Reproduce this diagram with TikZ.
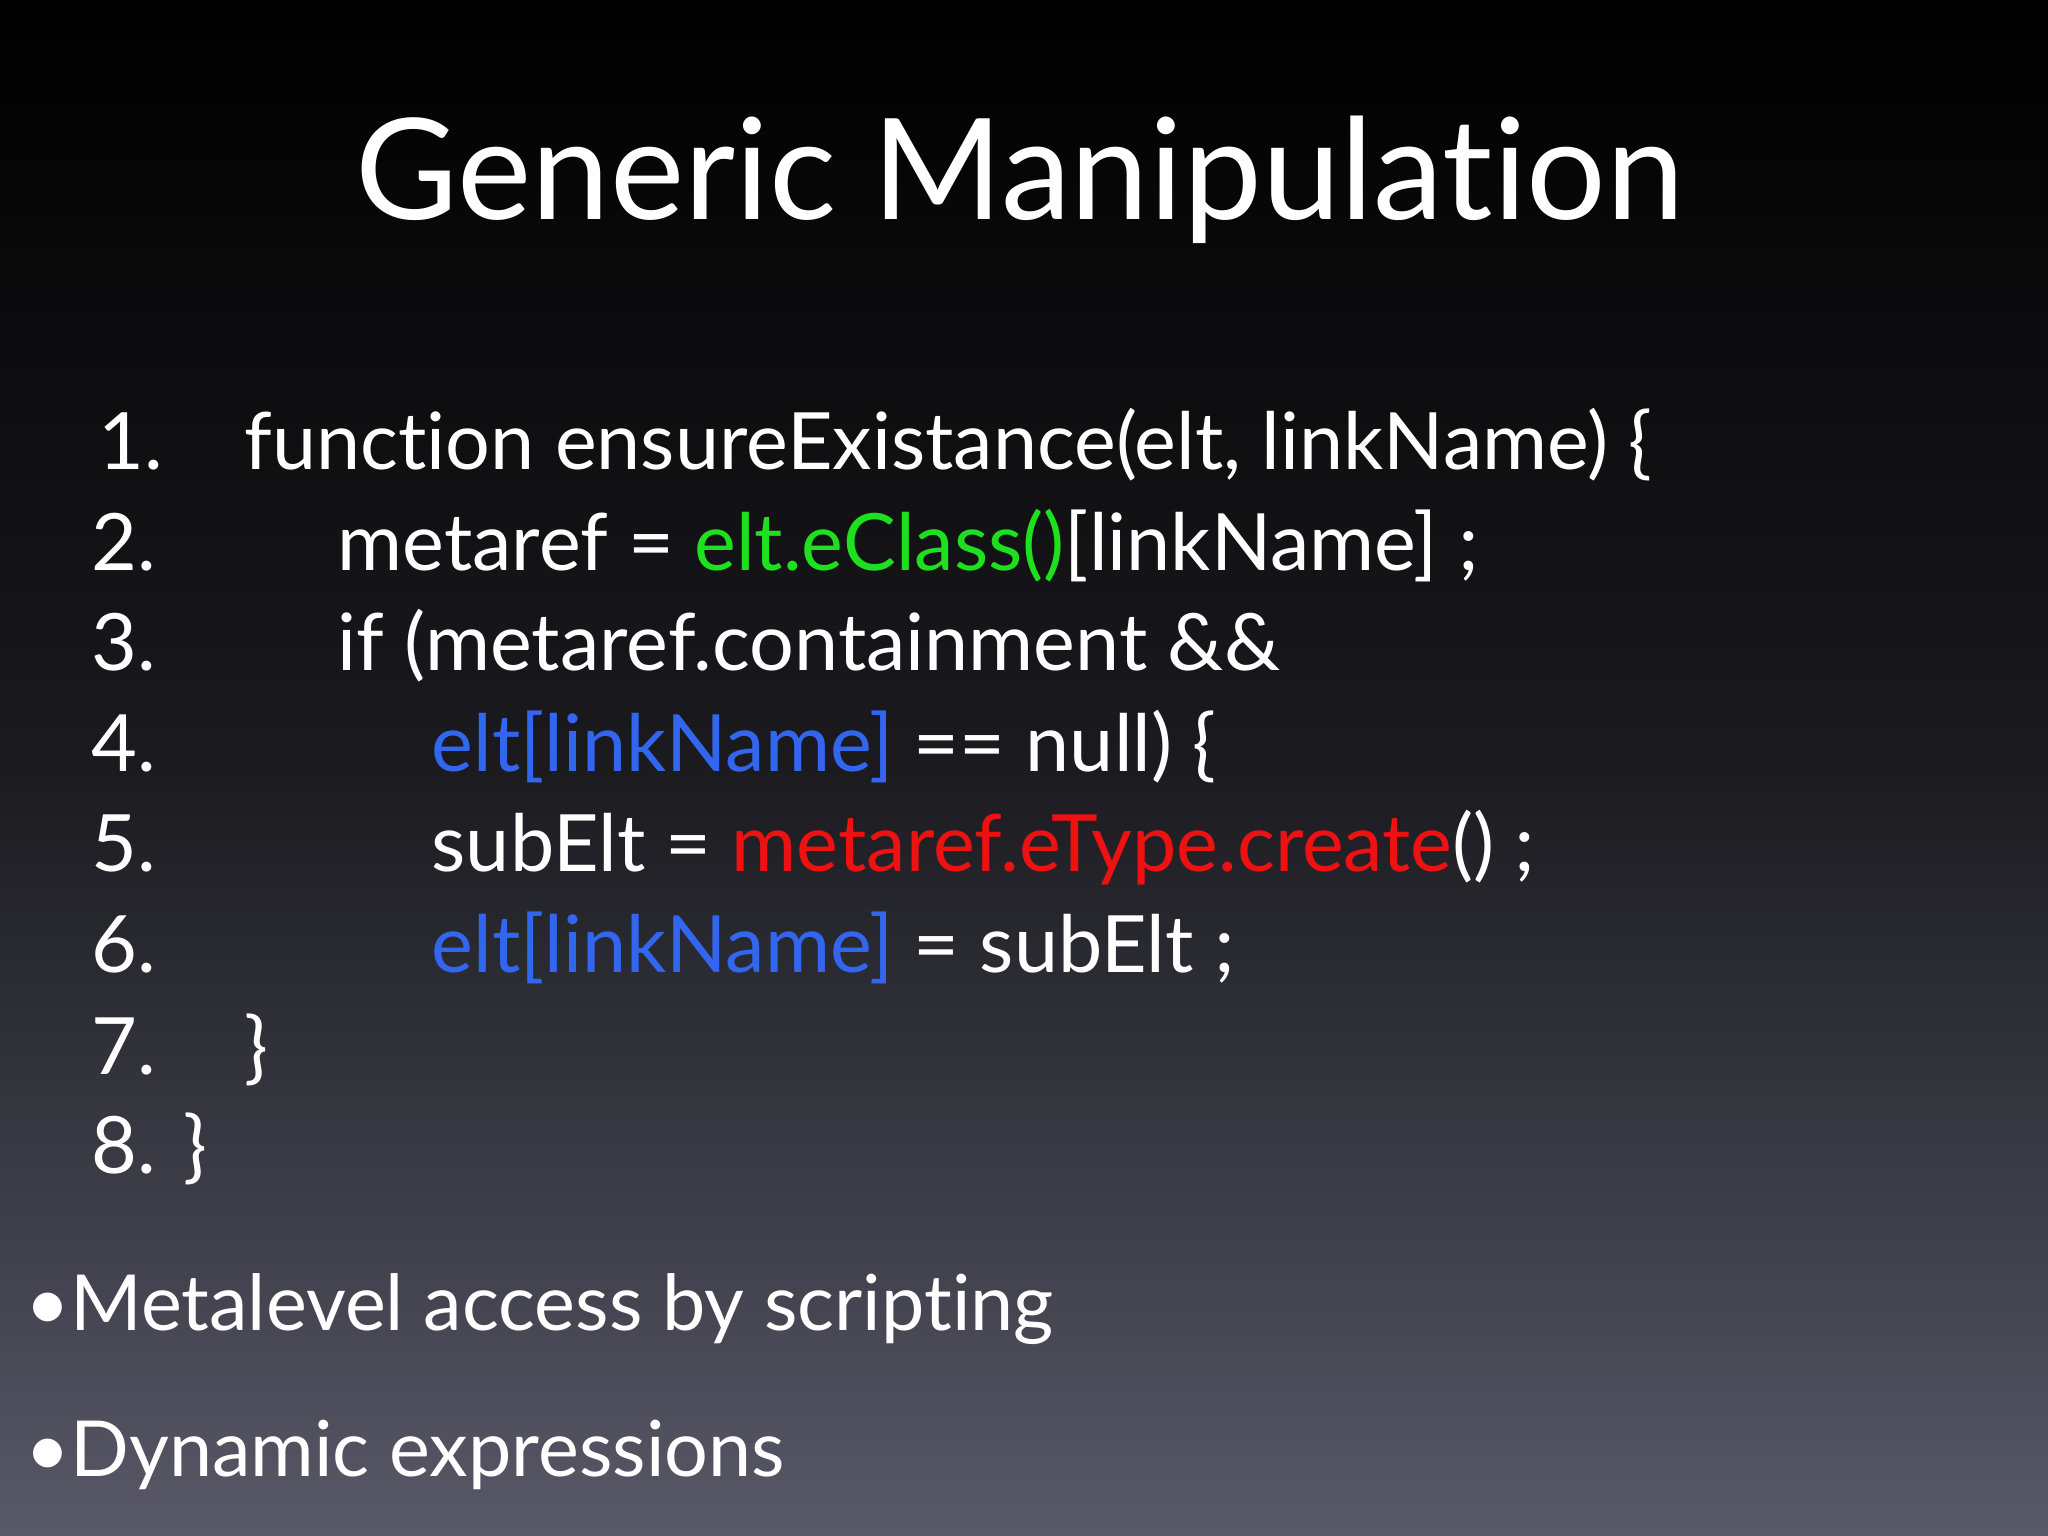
\documentclass[tikz,border=0pt]{standalone}
\usepackage{fontspec}
\setmainfont[Ligatures={NoCommon,NoRare}]{Lato}
\definecolor{cgreen}{HTML}{1EE01E}
\definecolor{cblue}{HTML}{3366EE}
\definecolor{cred}{HTML}{EE1111}
\definecolor{bgbot}{HTML}{585868}
\tikzset{code/.style={anchor=base west,inner sep=0,text=white,font=\fontsize{22.5}{26}\selectfont},
num/.style={code},
bul/.style={code,font=\fontsize{22}{26}\selectfont}}
\begin{document}
\begin{tikzpicture}
\shade[top color=black,bottom color=bgbot,middle color=black!70!bgbot,shading angle=0] (0,0) rectangle (20.48,-15.36);
\useasboundingbox (0,0) rectangle (20.48,-15.36);
\node[anchor=base,text=white,font=\fontsize{40}{44}\selectfont] (title) at (10.2,-2.2) {Generic Manipulation};
\node[num] (n1) at (0.98,-4.70) {1.};
\node[num] (n2) at (0.91,-5.71) {2.};
\node[num] (n3) at (0.91,-6.70) {3.};
\node[num] (n4) at (0.91,-7.71) {4.};
\node[num] (n5) at (0.91,-8.71) {5.};
\node[num] (n6) at (0.91,-9.73) {6.};
\node[num] (n7) at (0.91,-10.74) {7.};
\node[num] (n8) at (0.91,-11.73) {8. \}};
\node[code] (l1) at (2.44,-4.70) {function ensureExistance(elt, linkName) \{};
\node[code] (l2) at (3.37,-5.71) {metaref = \textcolor{cgreen}{elt.eClass()}[linkName] ;};
\node[code] (l3) at (3.37,-6.70) {if (metaref.containment \&\&};
\node[code] (l4) at (4.31,-7.71) {\textcolor{cblue}{elt[linkName]} == null) \{};
\node[code] (l5) at (4.31,-8.71) {subElt = \textcolor{cred}{metaref.eType.create}() ;};
\node[code] (l6) at (4.31,-9.73) {\textcolor{cblue}{elt[linkName]} = subElt ;};
\node[code] (l7) at (2.44,-10.74) {\}};
\node[bul] (b1) at (0.25,-13.30) {\textbullet Metalevel access by scripting};
\node[bul] (b2) at (0.25,-14.76) {\textbullet Dynamic expressions};
\end{tikzpicture}
\end{document}
